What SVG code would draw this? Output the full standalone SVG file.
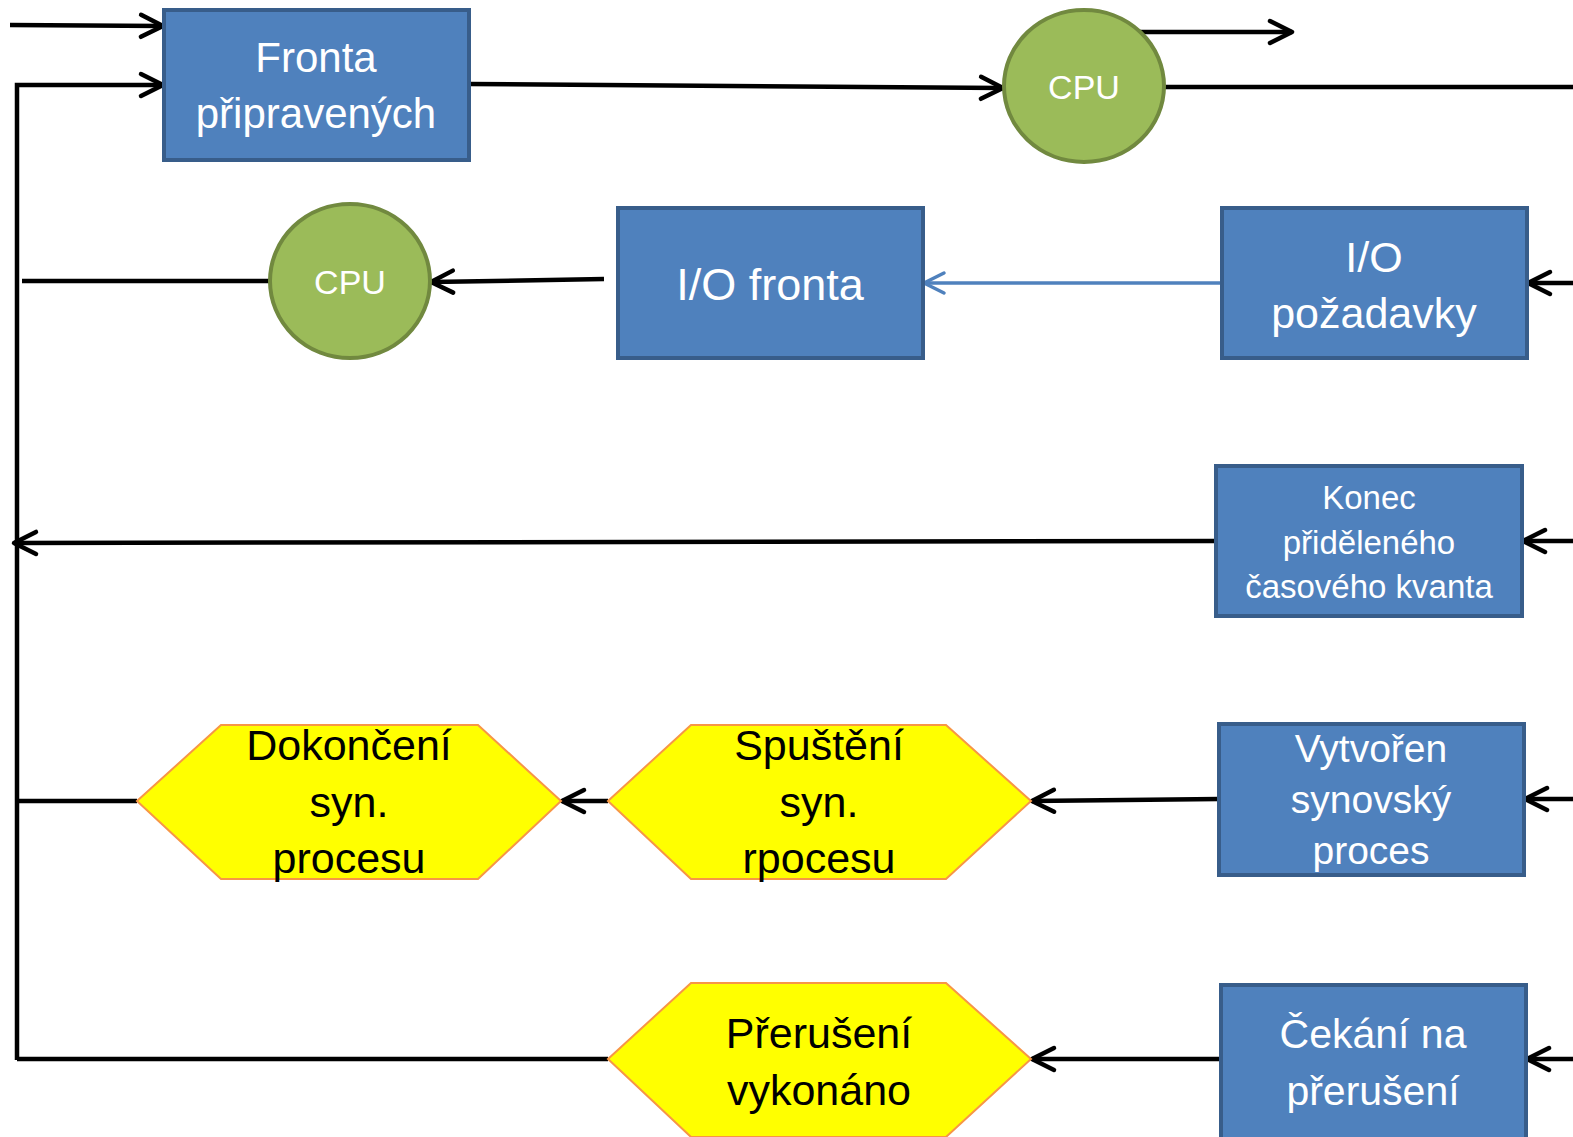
<svg xmlns="http://www.w3.org/2000/svg" width="1573" height="1137" viewBox="0 0 1573 1137">
  <defs>
    <style>
      .box { fill: #4f81bd; stroke: #385d8a; stroke-width: 4; }
      .cpu { fill: #9bbb59; stroke: #71893f; stroke-width: 4; }
      .hex { fill: #ffff00; stroke: #f79646; stroke-width: 2; }
      .wt { fill: #ffffff; font-family: "Liberation Sans", Arial, sans-serif; text-anchor: middle; }
      .bt { fill: #000000; font-family: "Liberation Sans", Arial, sans-serif; text-anchor: middle; }
      .ln { fill: none; stroke: #000000; stroke-width: 4.5; }
      .lnb { fill: none; stroke: #4f81bd; stroke-width: 3.5; }
    </style>
    <marker id="ah" markerUnits="userSpaceOnUse" markerWidth="32" markerHeight="32" viewBox="0 0 32 32" refX="28" refY="16" orient="auto">
      <path d="M6,5 L28,16 L6,27" fill="none" stroke="#000" stroke-width="4.5" stroke-linecap="round" stroke-linejoin="round"/>
    </marker>
    <marker id="ahb" markerUnits="userSpaceOnUse" markerWidth="32" markerHeight="32" viewBox="0 0 32 32" refX="28" refY="16" orient="auto">
      <path d="M8,6 L28,16 L8,26" fill="none" stroke="#4f81bd" stroke-width="3.5" stroke-linecap="round" stroke-linejoin="round"/>
    </marker>
  </defs>
  <rect width="1573" height="1137" fill="#ffffff"/>

  <!-- connectors -->
  <g id="connectors">
    <path class="ln" d="M10,25 L163,26" marker-end="url(#ah)"/>
    <path class="ln" d="M17,1060 L17,85 L163,85" marker-end="url(#ah)"/>
    <path class="ln" d="M469,84 L1003,88" marker-end="url(#ah)"/>
    <path class="ln" d="M1140,32 L1292,32" marker-end="url(#ah)"/>
    <path class="ln" d="M1165,87 L1573,87"/>
    <path class="ln" d="M22,281 L271,281"/>
    <path class="ln" d="M604,279 L431,282" marker-end="url(#ah)"/>
    <path class="lnb" d="M1222,283 L924,283" marker-end="url(#ahb)"/>
    <path class="ln" d="M1573,283 L1528,283" marker-end="url(#ah)"/>
    <path class="ln" d="M1216,541 L14,543" marker-end="url(#ah)"/>
    <path class="ln" d="M1573,541 L1523,541" marker-end="url(#ah)"/>
    <path class="ln" d="M17,801 L137,801"/>
    <path class="ln" d="M608,801 L562,801" marker-end="url(#ah)"/>
    <path class="ln" d="M1219,799 L1032,801" marker-end="url(#ah)"/>
    <path class="ln" d="M1573,799 L1525,799" marker-end="url(#ah)"/>
    <path class="ln" d="M17,1059 L608,1059"/>
    <path class="ln" d="M1221,1059 L1032,1059" marker-end="url(#ah)"/>
    <path class="ln" d="M1573,1059 L1527,1059" marker-end="url(#ah)"/>
  </g>

  <g id="fronta-pripravenych">
    <rect class="box" x="164" y="10" width="305" height="150"/>
    <text class="wt" x="316" y="72" font-size="42">Fronta</text>
    <text class="wt" x="316" y="128" font-size="42">připravených</text>
  </g>

  <g id="cpu-1">
    <ellipse class="cpu" cx="1084" cy="86" rx="80" ry="76"/>
    <text class="wt" x="1084" y="99" font-size="34">CPU</text>
  </g>

  <g id="cpu-2">
    <ellipse class="cpu" cx="350" cy="281" rx="80" ry="77"/>
    <text class="wt" x="350" y="294" font-size="34">CPU</text>
  </g>

  <g id="io-fronta">
    <rect class="box" x="618" y="208" width="305" height="150"/>
    <text class="wt" x="770" y="300" font-size="45">I/O fronta</text>
  </g>

  <g id="io-pozadavky">
    <rect class="box" x="1222" y="208" width="305" height="150"/>
    <text class="wt" x="1374" y="272" font-size="43">I/O</text>
    <text class="wt" x="1374" y="328" font-size="43">požadavky</text>
  </g>

  <g id="konec-kvanta">
    <rect class="box" x="1216" y="466" width="306" height="150"/>
    <text class="wt" x="1369" y="509" font-size="33">Konec</text>
    <text class="wt" x="1369" y="554" font-size="33">přiděleného</text>
    <text class="wt" x="1369" y="598" font-size="33">časového kvanta</text>
  </g>

  <g id="dokonceni">
    <polygon class="hex" points="137,801 221,725 478,725 561,801 478,879 221,879"/>
    <text class="bt" x="349" y="760" font-size="43">Dokončení</text>
    <text class="bt" x="349" y="817" font-size="43">syn.</text>
    <text class="bt" x="349" y="873" font-size="43">procesu</text>
  </g>

  <g id="spusteni">
    <polygon class="hex" points="608,801 691,725 946,725 1031,801 946,879 691,879"/>
    <text class="bt" x="819" y="760" font-size="43">Spuštění</text>
    <text class="bt" x="819" y="817" font-size="43">syn.</text>
    <text class="bt" x="819" y="873" font-size="43">rpocesu</text>
  </g>

  <g id="vytvoren">
    <rect class="box" x="1219" y="724" width="305" height="151"/>
    <text class="wt" x="1371" y="762" font-size="39">Vytvořen</text>
    <text class="wt" x="1371" y="813" font-size="39">synovský</text>
    <text class="wt" x="1371" y="864" font-size="39">proces</text>
  </g>

  <g id="preruseni-vykonano">
    <polygon class="hex" points="608,1059 691,983 946,983 1031,1059 946,1137 691,1137"/>
    <text class="bt" x="819" y="1048" font-size="43">Přerušení</text>
    <text class="bt" x="819" y="1105" font-size="43">vykonáno</text>
  </g>

  <g id="cekani">
    <rect class="box" x="1221" y="985" width="305" height="160"/>
    <text class="wt" x="1373" y="1048" font-size="41">Čekání na</text>
    <text class="wt" x="1373" y="1105" font-size="41">přerušení</text>
  </g>
</svg>
